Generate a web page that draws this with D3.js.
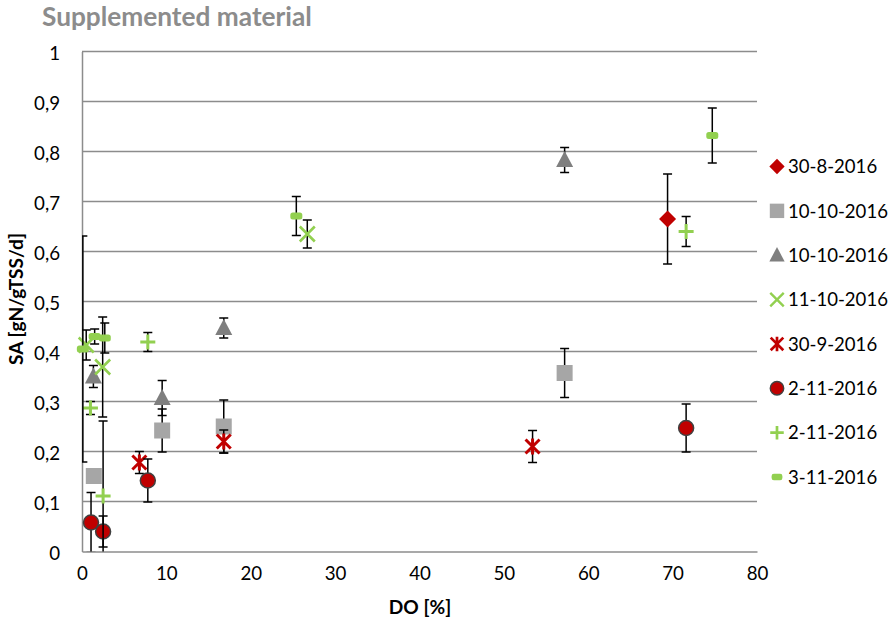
<!DOCTYPE html>
<html><head><meta charset="utf-8">
<script src="https://cdn.jsdelivr.net/npm/d3@7"></script>
<style>body{margin:0;background:#fff}svg{display:block}text{font-family:Lato,"Open Sans",sans-serif}</style>
</head><body><svg id="c" width="890" height="624"></svg>
<script>
const seriesNames = ["30-8-2016","10-10-2016","10-10-2016","11-10-2016","30-9-2016","2-11-2016","2-11-2016","3-11-2016"];
const s1x=[69.4], s1y=[0.665], s1e=[0.09];
const s2x=[1.4,9.5,16.8,57.2], s2y=[0.151,0.242,0.25,0.357], s2e=[0.01,0.043,0.053,0.049];
const s3x=[1.35,9.5,16.8,57.2], s3y=[0.35,0.307,0.447,0.783], s3e=[0.022,0.035,0.02,0.025];
const s4x=[0.5,2.45,26.7], s4y=[0.413,0.369,0.635], s4e=[0.03,0.1,0.028];
const s5x=[6.8,16.8,53.4], s5y=[0.178,0.22,0.21], s5e=[0.022,0.023,0.032];
const s6x=[1.07,2.5,7.8,71.6], s6y=[0.058,0.04,0.142,0.247], s6e=[0.06,0.031,0.043,0.048];
const s7x=[1.0,2.5,7.8,71.6], s7y=[0.287,0.111,0.419,0.64], s7e=[0.013,0.15,0.019,0.03];
const s8x=[0.1,1.5,2.7,25.4,74.7], s8y=[0.405,0.43,0.427,0.671,0.832], s8e=[0.226,0.015,0.03,0.039,0.055];
const xTicks=[0,10,20,30,40,50,60,70,80];
const yTicks=[0,0.1,0.2,0.3,0.4,0.5,0.6,0.7,0.8,0.9,1];

const shapes=["diamond","square","triangle","x","asterisk","circle","plus","dash"];
const colors=["#c00000","#a6a6a6","#7f7f7f","#92d050","#c00000","#c00000","#92d050","#92d050"];
const allX=[s1x,s2x,s3x,s4x,s5x,s6x,s7x,s8x], allY=[s1y,s2y,s3y,s4y,s5y,s6y,s7y,s8y], allE=[s1e,s2e,s3e,s4e,s5e,s6e,s7e,s8e];

const svg=d3.select("#c");
const x=d3.scaleLinear().domain([0,80]).range([82,757]);
const y=d3.scaleLinear().domain([0,1]).range([551.5,51.5]);

function fit(sel,target){ // scale font size so text width matches target
  const n=sel.node(); const fs=parseFloat(sel.attr("font-size"));
  const w=n.getComputedTextLength(); if(w>0) sel.attr("font-size",fs*target/w);
  return sel;
}

// title
fit(svg.append("text").attr("x",42).attr("y",26).attr("font-size",24).attr("font-weight","bold").attr("fill","#8c8c8c").text("Supplemented material"),270);

// gridlines
svg.append("g").selectAll("line").data(yTicks.slice(1)).join("line")
 .attr("x1",x(0)).attr("x2",x(80)).attr("y1",d=>y(d)).attr("y2",d=>y(d))
 .attr("stroke","#8c8c8c").attr("stroke-width",1.5);

// measure tick font size
const probe=svg.append("text").attr("font-size",16).text("0,6");
fit(probe,26); const tickFs=parseFloat(probe.attr("font-size")); probe.remove();

const yAxis=d3.axisLeft(y).tickValues(yTicks).tickSize(0).tickPadding(22).tickFormat(d=>String(d3.format("~g")(d)).replace(".",","));
const gy=svg.append("g").attr("transform",`translate(${x(0)},0)`).call(yAxis);
gy.select(".domain").attr("stroke","#8c8c8c").attr("stroke-width",1.5);
gy.selectAll("text").attr("font-size",tickFs).attr("fill","#000").attr("dy","0.42em").style("font-family","Lato,sans-serif");
const xAxis=d3.axisBottom(x).tickValues(xTicks).tickSize(0).tickPadding(22).tickFormat(d3.format("d"));
const gx=svg.append("g").attr("transform",`translate(0,${y(0)})`).call(xAxis);
gx.select(".domain").attr("stroke","#8c8c8c").attr("stroke-width",1.5);
gx.selectAll("text").attr("font-size",tickFs).attr("fill","#000").attr("dy","0.36em").style("font-family","Lato,sans-serif");

const yl=fit(svg.append("text").attr("transform","translate(23,299) rotate(-90)").attr("text-anchor","middle").attr("font-size",16).attr("font-weight","bold").text("SA [gN/gTSS/d]"),132);
const labFs=parseFloat(yl.attr("font-size"));
svg.append("text").attr("x",420).attr("y",614).attr("text-anchor","middle").attr("font-size",labFs).attr("font-weight","bold").text("DO [%]");

svg.append("clipPath").attr("id","pc").append("rect").attr("x",x(0)).attr("y",y(1)-10).attr("width",x(80)-x(0)).attr("height",y(0)-y(1)+10);

function marker(g,shape,color,cx,cy){
  const s=g.append("g").attr("transform",`translate(${cx},${cy})`);
  if(shape==="diamond") s.append("path").attr("d","M0,-8.5L8.5,0L0,8.5L-8.5,0Z").attr("fill",color);
  else if(shape==="square") s.append("rect").attr("x",-8).attr("y",-8).attr("width",16).attr("height",16).attr("fill",color);
  else if(shape==="triangle") s.append("path").attr("d","M0,-9L8.5,7L-8.5,7Z").attr("fill",color);
  else if(shape==="x") s.append("path").attr("d","M-7.5,-7.5L7.5,7.5M-7.5,7.5L7.5,-7.5").attr("stroke",color).attr("stroke-width",2.6).attr("fill","none");
  else if(shape==="asterisk") s.append("path").attr("d","M-7,-7L7,7M-7,7L7,-7M0,-8V8").attr("stroke",color).attr("stroke-width",3).attr("fill","none");
  else if(shape==="circle") s.append("circle").attr("r",7.5).attr("fill",color).attr("stroke","#404040").attr("stroke-width",1.5);
  else if(shape==="plus") s.append("path").attr("d","M-7.5,0H7.5M0,-7.5V7.5").attr("stroke",color).attr("stroke-width",3).attr("fill","none");
  else if(shape==="dash") s.append("rect").attr("x",-6).attr("y",-3.5).attr("width",12).attr("height",7).attr("rx",2.5).attr("fill",color);
}

for(let i=0;i<8;i++){
  const pts=allX[i].map((xv,j)=>({x:xv,y:allY[i][j],e:allE[i][j]}));
  const eg=svg.append("g").attr("clip-path","url(#pc)").attr("stroke","#000").attr("stroke-width",1.5);
  pts.forEach(p=>{
    const px=x(p.x), t=y(p.y+p.e), b=y(p.y-p.e);
    eg.append("line").attr("x1",px).attr("x2",px).attr("y1",t).attr("y2",b);
    eg.append("line").attr("x1",px-4.5).attr("x2",px+4.5).attr("y1",t).attr("y2",t);
    eg.append("line").attr("x1",px-4.5).attr("x2",px+4.5).attr("y1",b).attr("y2",b);
  });
  const mg=svg.append("g");
  pts.forEach(p=>marker(mg,shapes[i],colors[i],x(p.x),y(p.y)));
}

// legend
const legY=d3.scalePoint().domain(d3.range(8)).range([166.5,477]);
const lp=svg.append("text").attr("font-size",17).text("10-10-2016");
fit(lp,100); const legFs=parseFloat(lp.attr("font-size")); lp.remove();
const lg=svg.append("g");
seriesNames.forEach((n,i)=>{
  const g=lg.append("g").attr("transform",`translate(777,${legY(i)}) scale(0.9)`);
  marker(g,shapes[i],colors[i],0,0);
  lg.append("text").attr("x",788).attr("y",legY(i)).attr("dy","0.36em").attr("font-size",legFs).attr("fill","#000").text(n);
});
</script></body></html>
